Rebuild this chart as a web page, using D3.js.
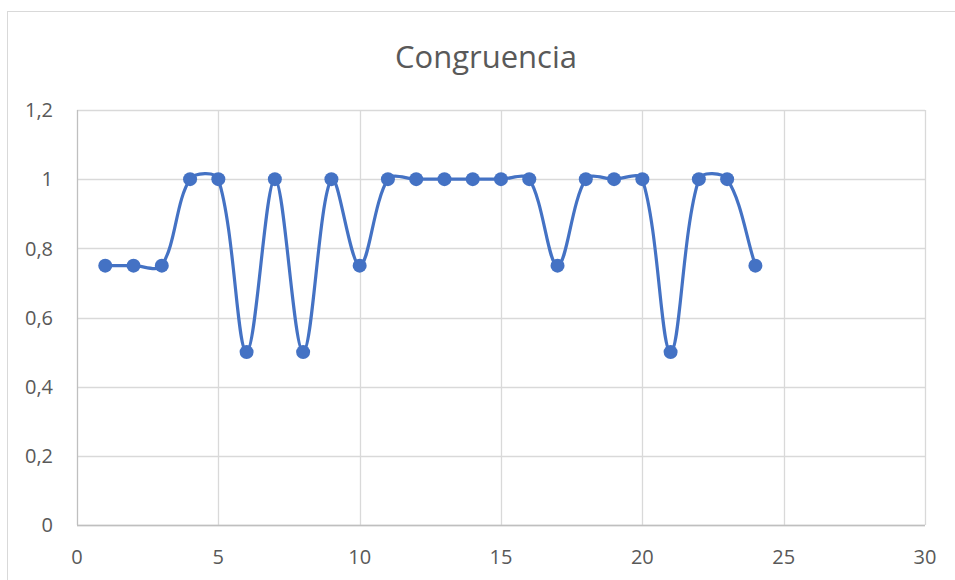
<!DOCTYPE html>
<html><head><meta charset="utf-8">
<script src="https://cdn.jsdelivr.net/npm/d3@7"></script>
<style>body{margin:0;background:#fff}svg{display:block}</style>
</head><body>
<script>
const xValues = [1,2,3,4,5,6,7,8,9,10,11,12,13,14,15,16,17,18,19,20,21,22,23,24];
const yValues = [0.75,0.75,0.75,1,1,0.5,1,0.5,1,0.75,1,1,1,1,1,1,0.75,1,1,1,0.5,1,1,0.75];
const xTicks = [0,5,10,15,20,25,30];
const yTicks = [0,0.2,0.4,0.6,0.8,1,1.2];
const title = "Congruencia";

const W=955,H=580;
const svg=d3.select("body").append("svg").attr("width",W).attr("height",H);
svg.append("rect").attr("x",7.5).attr("y",11.5).attr("width",W).attr("height",H)
  .attr("fill","#fff").attr("stroke","#d9d9d9").attr("stroke-width",1);
const L=77,R=925,T=110,B=525;
const x=d3.scaleLinear().domain([0,30]).range([L,R]);
const y=d3.scaleLinear().domain([0,1.2]).range([B,T]);
const font="'Open Sans', Calibri, sans-serif";
const fmt=d=>d3.format("~g")(d).replace(".",",");

const g=svg.append("g");
g.selectAll(".hg").data(yTicks).join("line")
 .attr("x1",L).attr("x2",R).attr("y1",d=>Math.round(y(d))+0.5).attr("y2",d=>Math.round(y(d))+0.5)
 .attr("stroke","#d9d9d9").attr("stroke-width",1.3);
g.selectAll(".vg").data(xTicks).join("line")
 .attr("y1",T).attr("y2",B).attr("x1",d=>Math.round(x(d))+0.5).attr("x2",d=>Math.round(x(d))+0.5)
 .attr("stroke",d=>d===0?"#bfbfbf":"#d9d9d9").attr("stroke-width",1.3);
g.append("line").attr("x1",L).attr("x2",R).attr("y1",B+0.5).attr("y2",B+0.5).attr("stroke","#bfbfbf").attr("stroke-width",1.3);

g.selectAll(".yl").data(yTicks).join("text")
 .attr("x",53).attr("y",d=>y(d)).attr("dy","0.36em").attr("text-anchor","end")
 .attr("font-family",font).attr("font-size",20).attr("fill","#595959").text(fmt);
g.selectAll(".xl").data(xTicks).join("text")
 .attr("x",d=>x(d)).attr("y",564).attr("text-anchor","middle")
 .attr("font-family",font).attr("font-size",20).attr("fill","#595959").text(fmt);

svg.append("text").attr("x",486).attr("y",68).attr("text-anchor","middle")
 .attr("font-family",font).attr("font-size",31).attr("fill","#595959").text(title);

// Excel-like smoothing: chord-length scaled Catmull-Rom tangents
const pts=xValues.map((v,i)=>[x(v),y(yValues[i])]);
function smoothPath(p){
  const n=p.length, f=1/3;
  const dist=(a,b)=>Math.hypot(b[0]-a[0],b[1]-a[1]);
  let d=`M${p[0][0]},${p[0][1]}`;
  for(let i=0;i<n-1;i++){
    const p0=p[Math.max(i-1,0)],p1=p[i],p2=p[i+1],p3=p[Math.min(i+2,n-1)];
    const d01=dist(p0,p1),d12=dist(p1,p2),d23=dist(p2,p3);
    const s1=(d01+d12)>0? f*d12/(d01+d12):0;
    const s2=(d12+d23)>0? f*d12/(d12+d23):0;
    const c1=[p1[0]+(p2[0]-p0[0])*s1, p1[1]+(p2[1]-p0[1])*s1];
    const c2=[p2[0]-(p3[0]-p1[0])*s2, p2[1]-(p3[1]-p1[1])*s2];
    d+=`C${c1[0]},${c1[1]} ${c2[0]},${c2[1]} ${p2[0]},${p2[1]}`;
  }
  return d;
}
svg.append("path").attr("d",smoothPath(pts)).attr("fill","none")
 .attr("stroke","#4472C4").attr("stroke-width",3.2).attr("stroke-linejoin","round");
svg.selectAll(".pt").data(xValues.map((v,i)=>[v,yValues[i]])).join("circle")
 .attr("cx",d=>x(d[0])).attr("cy",d=>y(d[1])).attr("r",7).attr("fill","#4472C4");
</script>
</body></html>
